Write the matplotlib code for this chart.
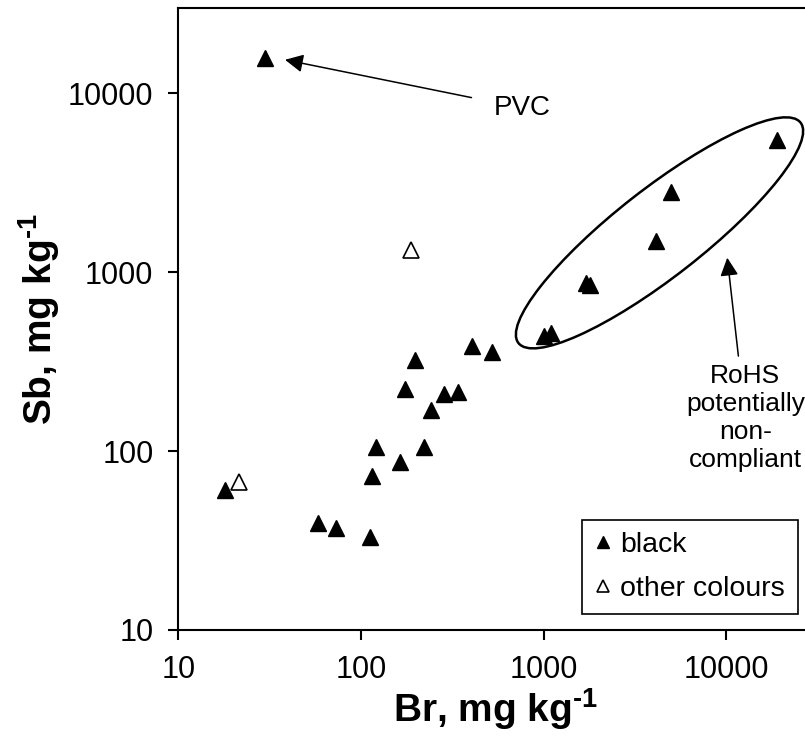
import matplotlib
matplotlib.use("Agg")
import matplotlib.pyplot as plt
from matplotlib.patches import Ellipse
from matplotlib.transforms import IdentityTransform

plt.rcParams["font.family"] = ["Liberation Sans", "DejaVu Sans"]
plt.rcParams["mathtext.fontset"] = "custom"
plt.rcParams["mathtext.rm"] = "Liberation Sans"
plt.rcParams["mathtext.bf"] = "Liberation Sans:bold"

# Data (mg/kg)
br_black = [17.9, 58.4, 73.2, 112, 115, 121, 164, 173, 196, 222, 240, 286, 341, 407, 523,
            1000, 1100, 1700, 1800, 4100, 5000, 19000, 29.7]
sb_black = [60.7, 39.5, 37.3, 33.0, 72.9, 105, 87.4, 222, 324, 105, 170, 209, 215, 388, 358,
            440, 460, 870, 850, 1500, 2800, 5500, 15750]
br_other = [21.5, 188]
sb_other = [67.5, 1334]

# Annotation anchors
pvc_point = (38.3, 15400)
pvc_text = (758, 8300)
rohs_point = (10100, 1205)
rohs_text = (12700, 153)
ellipse_center = (4300, 1660)

fig = plt.figure(figsize=(8.05, 7.46), dpi=100)
ax = fig.add_axes([0.2217, 0.1555, 0.789, 0.8338])

ax.plot(br_black, sb_black, linestyle="none", marker="^", markersize=12,
        markerfacecolor="black", markeredgecolor="black", label="black")
ax.plot(br_other, sb_other, linestyle="none", marker="^", markersize=12,
        markerfacecolor="white", markeredgecolor="black", markeredgewidth=1.2,
        label="other colours")

ax.set_xscale("log")
ax.set_yscale("log")
ax.set_xlim(10, 30000)
ax.set_ylim(10, 30000)
ax.set_xticks([10, 100, 1000, 10000])
ax.set_xticklabels(["10", "100", "1000", "10000"])
ax.set_yticks([10, 100, 1000, 10000])
ax.set_yticklabels(["10", "100", "1000", "10000"])
ax.minorticks_off()
ax.tick_params(direction="out", length=7, width=1.5, labelsize=22, pad=11)
for s in ax.spines.values():
    s.set_linewidth(1.5)

ax.set_xlabel("Br, mg kg$^{\\mathbf{\u20101}}$", fontsize=28, fontweight="bold", labelpad=1)
ax.set_ylabel("Sb, mg kg$^{\\mathbf{\u20101}}$", fontsize=28, fontweight="bold", labelpad=4)

arrow = dict(arrowstyle="-|>,head_length=1.1,head_width=0.55", mutation_scale=10,
             color="black", lw=1.1, shrinkB=0)
ax.annotate("PVC", xy=pvc_point, xytext=pvc_text, fontsize=20, ha="center", va="center",
            arrowprops=dict(arrow, shrinkA=14))
ax.annotate("RoHS\npotentially\nnon-\ncompliant", xy=rohs_point, xytext=rohs_text,
            fontsize=19, ha="center", va="center",
            arrowprops=dict(arrow, shrinkA=4))

# ellipse around the high-Br group, drawn in pixel space
fig.canvas.draw()
cx, cy = ax.transData.transform(ellipse_center)
ell = Ellipse((cx, cy), width=358, height=88, angle=38, fill=False,
              edgecolor="black", linewidth=1.8, transform=IdentityTransform(), clip_on=False)
ax.add_artist(ell)

leg = ax.legend(loc="lower left", bbox_to_anchor=(0.6347, 0.0252), borderaxespad=0,
                fontsize=20.5, markerscale=0.75, handlelength=0.6, handletextpad=0.3,
                borderpad=0.45, labelspacing=0.6, fancybox=False, framealpha=1,
                edgecolor="black")
leg.get_frame().set_linewidth(1.2)

fig.savefig("out.png", dpi=100)
